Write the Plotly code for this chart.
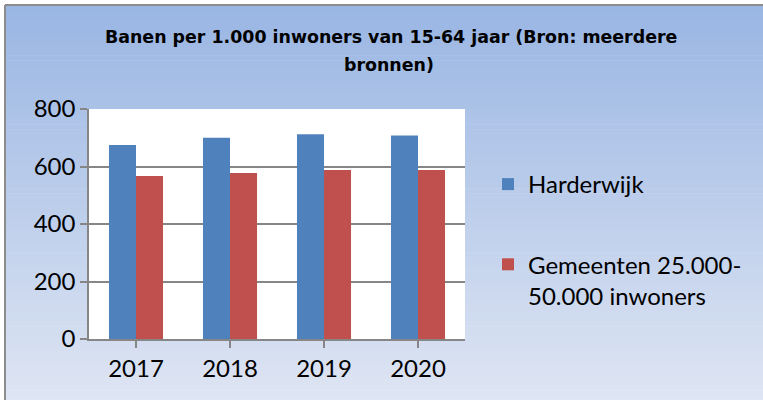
import plotly.graph_objects as go

years = ["2017", "2018", "2019", "2020"]
harderwijk = [675, 700, 712, 708]
gemeenten = [567, 577, 588, 588]
series_names = ["Harderwijk", "Gemeenten 25.000-<br>50.000 inwoners"]
title_lines = ["Banen per 1.000 inwoners van 15-64 jaar (Bron: meerdere", "bronnen)"]

W, H = 763, 400


def px(x):
    return x / W


def py(y):
    return 1 - y / H


def lerp(c1, c2, t):
    return tuple(round(a + (b - a) * t) for a, b in zip(c1, c2))


top_c = (154, 182, 227)
bot_c = (222, 229, 243)

shapes = []
n = 80
y0, y1 = 6, 400
for i in range(n):
    ya = y0 + (y1 - y0) * i / n
    yb = y0 + (y1 - y0) * (i + 1) / n + 0.6
    c = lerp(top_c, bot_c, i / (n - 1))
    shapes.append(dict(type="rect", xref="paper", yref="paper",
                       x0=px(6), x1=px(W + 20), y0=py(yb), y1=py(ya),
                       fillcolor="rgb(%d,%d,%d)" % c, line=dict(width=0),
                       layer="below"))
# plot area white background
shapes.append(dict(type="rect", xref="x domain", yref="y domain",
                   x0=0, x1=1, y0=0, y1=1, fillcolor="white",
                   line=dict(width=0), layer="below"))
# outer border (left and top edges visible)
border = dict(color="#8c8c8c", width=2)
shapes.append(dict(type="line", xref="paper", yref="paper",
                   x0=px(5), x1=px(5), y0=py(H + 10), y1=py(5), line=border, layer="above"))
shapes.append(dict(type="line", xref="paper", yref="paper",
                   x0=px(5), x1=px(W + 20), y0=py(5), y1=py(5), line=border, layer="above"))

fig = go.Figure()
fig.add_trace(go.Bar(x=years, y=harderwijk, name=series_names[0],
                     marker=dict(color="#4f81bd", line=dict(width=0)),
                     legendgroup="a"))
fig.add_trace(go.Bar(x=years, y=gemeenten, name=series_names[1],
                     marker=dict(color="#c0504d", line=dict(width=0)),
                     legendgroup="b"))

tick_font = dict(family="Lato, sans-serif", size=24, color="#000000")
title_font = dict(family="DejaVu Sans, sans-serif", size=17.4, color="#000000")

fig.update_layout(
    template="none",
    width=W, height=H,
    autosize=False,
    margin=dict(l=0, r=0, t=0, b=0, pad=0, autoexpand=False),
    paper_bgcolor="white",
    plot_bgcolor="rgba(0,0,0,0)",
    barmode="group",
    bargap=0.425,
    bargroupgap=0,
    shapes=shapes,
    showlegend=True,
    legend=dict(x=px(488), y=py(162), xanchor="left", yanchor="top",
                font=dict(family="Lato, sans-serif", size=24, color="#000000"),
                bgcolor="rgba(0,0,0,0)", borderwidth=0,
                traceorder="grouped", tracegroupgap=46, valign="top"),
    xaxis=dict(domain=[px(89), px(465)], showgrid=False, automargin=False,
               showline=True, linecolor="#868686", linewidth=1.5,
               ticks="outside", ticklen=7, tickcolor="#868686", tickwidth=1.5,
               tickson="boundaries", tickfont=tick_font),
    yaxis=dict(domain=[py(339), py(109)], range=[0, 800], dtick=200,
               automargin=False,
               showgrid=True, gridcolor="#868686", gridwidth=1.5,
               showline=True, linecolor="#868686", linewidth=1.5,
               ticks="outside", ticklen=7, tickcolor="#868686", tickwidth=1.5,
               tickfont=tick_font, zeroline=False),
    annotations=[
        dict(text="<b>" + title_lines[0] + "</b>",
             xref="paper", yref="paper", x=px(391), y=py(37),
             xanchor="center", yanchor="middle", showarrow=False,
             font=title_font),
        dict(text="<b>" + title_lines[1] + "</b>",
             xref="paper", yref="paper", x=px(389), y=py(65),
             xanchor="center", yanchor="middle", showarrow=False,
             font=title_font),
    ],
)

fig.write_html("out.html",
               config={"displayModeBar": False},
               post_script=("document.body.style.margin='0';"
                            "document.body.style.overflow='hidden';"
                            "document.documentElement.style.overflow='hidden';"))
